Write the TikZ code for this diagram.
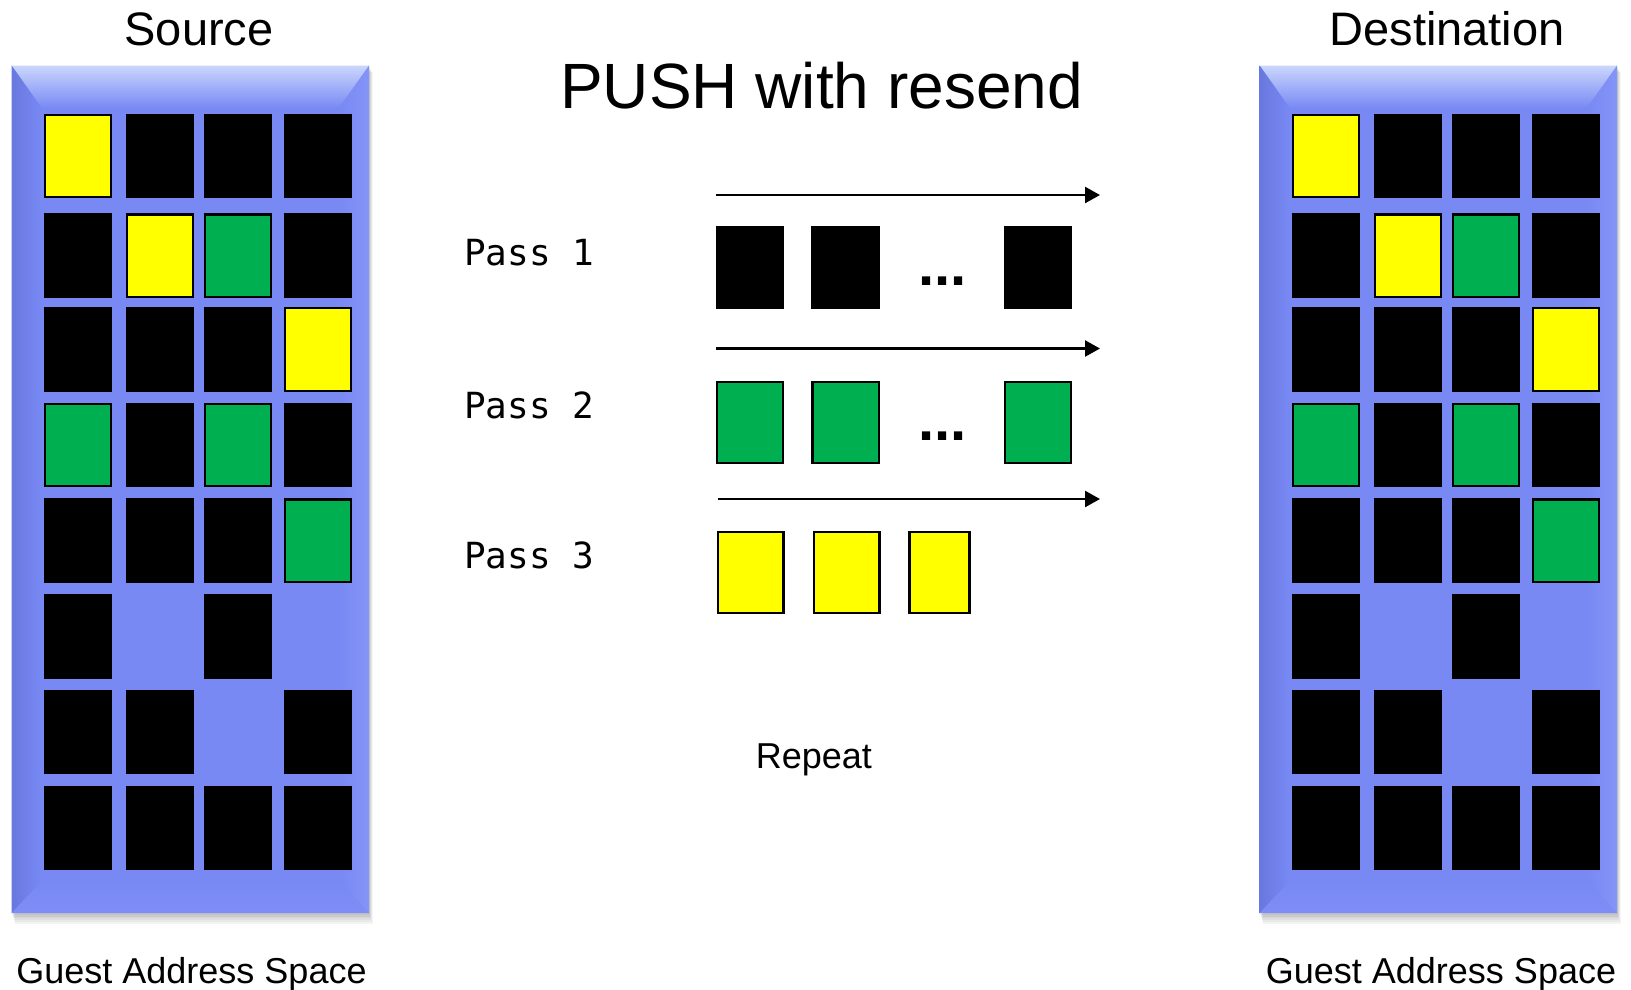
\documentclass[tikz,border=0pt]{standalone}
\usepackage{fontspec}
\setmainfont{Liberation Sans}
\newfontfamily\monof{DejaVu Sans Mono}
\usetikzlibrary{arrows.meta}
\definecolor{face}{RGB}{121,137,244}
\definecolor{bevtop}{RGB}{202,214,253}
\definecolor{bevleft}{RGB}{104,120,222}
\definecolor{bevright}{RGB}{132,148,247}
\definecolor{bevbot}{RGB}{126,142,246}
\definecolor{cg}{RGB}{0,176,80}
\definecolor{cy}{RGB}{255,255,0}
\tikzset{
  cell/.style={draw=black, line width=2.2, minimum width=66.5, minimum height=82.5, inner sep=0, anchor=north west},
  mbox/.style={draw=black, line width=2.2, minimum height=81, inner sep=0, anchor=north west},
  flow/.style={line width=2.4, -{Triangle[length=15, width=16]}},
  lbl/.style={inner sep=0, anchor=base},
  passlbl/.style={inner sep=0, anchor=base west, font=\monof\fontsize{36}{40}\selectfont},
}
\begin{document}
\begin{tikzpicture}[x=1pt, y=-1pt]
\useasboundingbox (0,0) rectangle (1631,989);

% ---------- panels ----------
\foreach \ox/\p in {0/s,1248/d} {
  % soft shadow
  \foreach \i in {1,...,6}
    \fill[black, opacity=0.045] (\ox+11.7+0.5*\i,66+\i) rectangle (\ox+369+0.6*\i,913+1.8*\i);
  % face
  \fill[face] (\ox+11.7,65.7) rectangle (\ox+369,913);
  % bevels
  \shade[top color=bevtop, bottom color=face] (\ox+11.7,65.7) -- (\ox+369,65.7) -- (\ox+339,108) -- (\ox+41.7,108) -- cycle;
  \shade[left color=bevleft, right color=face] (\ox+11.7,65.7) -- (\ox+41.7,108) -- (\ox+41.7,881) -- (\ox+11.7,913) -- cycle;
  \shade[left color=face, right color=bevright] (\ox+369,65.7) -- (\ox+369,913) -- (\ox+339,881) -- (\ox+339,108) -- cycle;
  \shade[top color=face, bottom color=bevbot] (\ox+11.7,913) -- (\ox+369,913) -- (\ox+339,881) -- (\ox+41.7,881) -- cycle;
  % cells
  \foreach \r/\c/\fc in {1/1/cy,1/2/black,1/3/black,1/4/black,
                         2/1/black,2/2/cy,2/3/cg,2/4/black,
                         3/1/black,3/2/black,3/3/black,3/4/cy,
                         4/1/cg,4/2/black,4/3/cg,4/4/black,
                         5/1/black,5/2/black,5/3/black,5/4/cg,
                         6/1/black,6/3/black,
                         7/1/black,7/2/black,7/4/black,
                         8/1/black,8/2/black,8/3/black,8/4/black} {
    \pgfmathsetmacro\cx{{43.7,125.7,203.7,283.7}[\c-1]}
    \pgfmathsetmacro\ry{{113.5,213.3,307,402.6,498.3,594,689.7,785.7}[\r-1]}
    \node[cell, fill=\fc] (\p-\r-\c) at (\ox+\cx,\ry) {};
  }
}

% ---------- titles ----------
\node[lbl, font=\fontsize{47}{56}\selectfont] (srcT) at (199,45) {Source};
\node[lbl, font=\fontsize{47}{56}\selectfont] (dstT) at (1447,45) {Destination};
\node[lbl, font=\fontsize{36}{43}\selectfont] (srcG) at (191.5,983.3) {Guest Address Space};
\node[lbl, font=\fontsize{36}{43}\selectfont] (dstG) at (1441,983.3) {Guest Address Space};
\node[lbl, font=\fontsize{64}{76}\selectfont] (title) at (821.7,108.5) {PUSH with resend};
\node[lbl, font=\fontsize{36}{43}\selectfont] (rep) at (813.8,768.3) {Repeat};

% ---------- passes ----------
\node[passlbl] (p1) at (464,265) {Pass 1};
\node[passlbl] (p2) at (464,418) {Pass 2};
\node[passlbl] (p3) at (464,568.3) {Pass 3};

% arrows
\coordinate (a1s) at (716,195);   \coordinate (a1e) at (1100,195);
\coordinate (a2s) at (716,348.5); \coordinate (a2e) at (1100,348.5);
\coordinate (a3s) at (717.7,499); \coordinate (a3e) at (1100,499);
\draw[flow] (a1s) -- (a1e);
\draw[flow] (a2s) -- (a2e);
\draw[flow] (a3s) -- (a3e);

% pass 1 boxes
\node[mbox, fill=black, minimum width=66.5] (b11) at (715.7,225.7) {};
\node[mbox, fill=black, minimum width=66.5] (b12) at (811.4,225.7) {};
\node[mbox, fill=black, minimum width=66.5] (b13) at (1003.5,225.7) {};
\node[lbl, anchor=base west, font=\bfseries\fontsize{58}{60}\selectfont] (d1) at (918,285.3) {...};
% pass 2 boxes
\node[mbox, fill=cg, minimum width=66.5] (b21) at (715.7,380.7) {};
\node[mbox, fill=cg, minimum width=66.5] (b22) at (811.4,380.7) {};
\node[mbox, fill=cg, minimum width=66.5] (b23) at (1003.5,380.7) {};
\node[lbl, anchor=base west, font=\bfseries\fontsize{58}{60}\selectfont] (d2) at (918,440.3) {...};
% pass 3 boxes
\node[mbox, fill=cy, minimum width=65.6] (b31) at (716.7,530.7) {};
\node[mbox, fill=cy, minimum width=65.6] (b32) at (812.7,530.7) {};
\node[mbox, fill=cy, minimum width=60] (b33) at (908.3,530.7) {};
\end{tikzpicture}
\end{document}
